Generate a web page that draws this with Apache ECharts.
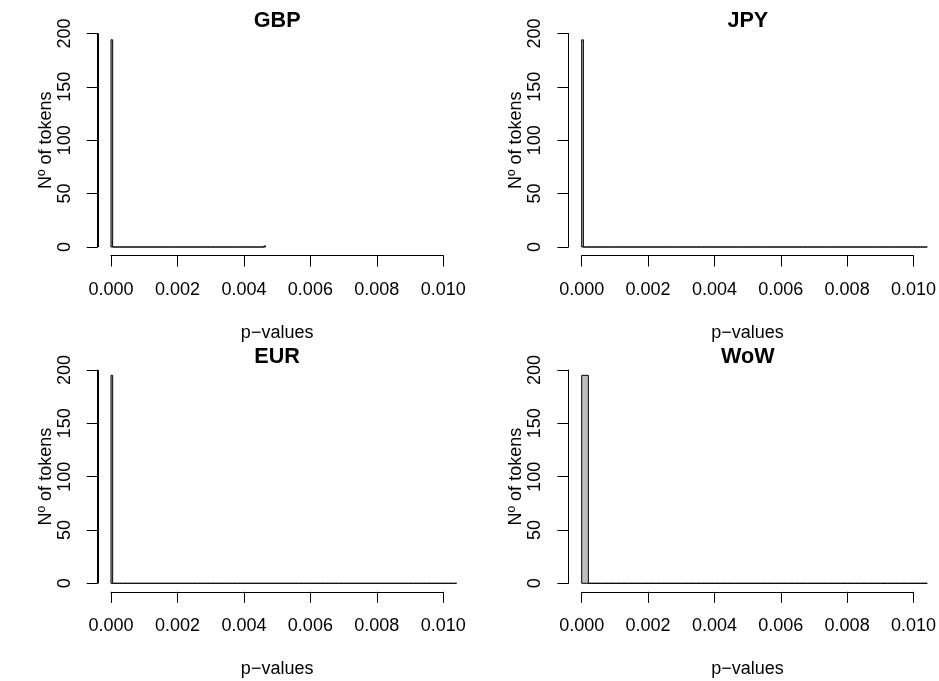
<!DOCTYPE html>
<html>
<head>
<meta charset="utf-8">
<script src="https://cdn.jsdelivr.net/npm/echarts@6/dist/echarts.min.js"></script>
<style>
html,body{margin:0;padding:0;background:#fff;}
#chart{width:939px;height:681px;background:#fff;}
</style>
</head>
<body>
<div id="chart"></div>
<script>
// ---- Data (histogram bin counts) ----
const panelTitles = ['GBP', 'JPY', 'EUR', 'WoW'];
const binWidths = [0.00005, 0.00005, 0.00005, 0.0002];
const gbpCounts = [194,
0,0,0,0,0,0,0,0,0,0,
0,0,0,0,0,0,0,0,0,0,
0,0,0,0,0,0,0,0,0,0,
0,0,0,0,0,0,0,0,0,0,
0,0,0,0,0,0,0,0,0,0,
0,0,0,0,0,0,0,0,0,0,
0,0,0,0,0,0,0,0,0,0,
0,0,0,0,0,0,0,0,0,0,
0,0,0,0,0,0,0,0,0,0,
0,
1];
const jpyCounts = [194,
0,0,0,0,0,0,0,0,0,0, 0,0,0,0,0,0,0,0,0,0,
0,0,0,0,0,0,0,0,0,0, 0,0,0,0,0,0,0,0,0,0,
0,0,0,0,0,0,0,0,0,0, 0,0,0,0,0,0,0,0,0,0,
0,0,0,0,0,0,0,0,0,0, 0,0,0,0,0,0,0,0,0,0,
0,0,0,0,0,0,0,0,0,0, 0,0,0,0,0,0,0,0,0,0,
0,0,0,0,0,0,0,0,0,0, 0,0,0,0,0,0,0,0,0,0,
0,0,0,0,0,0,0,0,0,0, 0,0,0,0,0,0,0,0,0,0,
0,0,0,0,0,0,0,0,0,0, 0,0,0,0,0,0,0,0,0,0,
0,0,0,0,0,0,0,0,0,0, 0,0,0,0,0,0,0,0,0,0,
0,0,0,0,0,0,0,0,0,0, 0,0,0,0,0,0,0,0,0,0,
0,0,0,0,0,0,0];
const eurCounts = [195,
0,0,0,0,0,0,0,0,0,0, 0,0,0,0,0,0,0,0,0,0,
0,0,0,0,0,0,0,0,0,0, 0,0,0,0,0,0,0,0,0,0,
0,0,0,0,0,0,0,0,0,0, 0,0,0,0,0,0,0,0,0,0,
0,0,0,0,0,0,0,0,0,0, 0,0,0,0,0,0,0,0,0,0,
0,0,0,0,0,0,0,0,0,0, 0,0,0,0,0,0,0,0,0,0,
0,0,0,0,0,0,0,0,0,0, 0,0,0,0,0,0,0,0,0,0,
0,0,0,0,0,0,0,0,0,0, 0,0,0,0,0,0,0,0,0,0,
0,0,0,0,0,0,0,0,0,0, 0,0,0,0,0,0,0,0,0,0,
0,0,0,0,0,0,0,0,0,0, 0,0,0,0,0,0,0,0,0,0,
0,0,0,0,0,0,0,0,0,0, 0,0,0,0,0,0,0,0,0,0,
0,0,0,0,0,0,0];
const wowCounts = [195,
0,0,0,0,0,0,0,0,0,0,
0,0,0,0,0,0,0,0,0,0,
0,0,0,0,0,0,0,0,0,0,
0,0,0,0,0,0,0,0,0,0,
0,0,0,0,0,0,0,0,0,0,
0];
const allCounts = [gbpCounts, jpyCounts, eurCounts, wowCounts];
const xTickMin = 0, xTickMax = 0.01, xTickStep = 0.002;
const yTickMin = 0, yTickMax = 200, yTickStep = 50;
const xLabel = 'p\u2212values';
const yLabel = 'Nº of tokens';

// ---- Layout (pixel geometry of the 2x2 panels) ----
const cols = [{x0: 111, x1: 443.3}, {x0: 581.7, x1: 914}];
const rows = [{y0: 247, y200: 33.4, title: 21}, {y0: 583.3, y200: 370, title: 356.7}];
const FONT = '"Liberation Sans", Arial, Helvetica, sans-serif';

const grids = [], xAxes = [], yAxes = [], series = [], graphics = [];
for (let p = 0; p < 4; p++) {
  const c = cols[p % 2], r = rows[Math.floor(p / 2)];
  const ppu = (c.x1 - c.x0) / (xTickMax - xTickMin);
  const ppv = (r.y0 - r.y200) / (yTickMax - yTickMin);
  const padX = 0.04 * (xTickMax - xTickMin), padY = 0.04 * (yTickMax - yTickMin);
  const plotL = c.x0 - padX * ppu, plotR = c.x1 + padX * ppu;
  const plotT = r.y200 - padY * ppv, plotB = r.y0 + padY * ppv;
  const gi = grids.length;
  // data grid (plot region)
  grids.push({left: plotL, top: plotT, width: plotR - plotL, height: plotB - plotT});
  xAxes.push({type: 'value', gridIndex: gi, min: xTickMin - padX, max: xTickMax + padX, show: false});
  yAxes.push({type: 'value', gridIndex: gi, min: yTickMin - padY, max: yTickMax + padY, show: false});
  // x-axis grid
  grids.push({left: c.x0, top: plotB - 10, width: c.x1 - c.x0, height: 10});
  xAxes.push({
    type: 'value', gridIndex: gi + 1, position: 'bottom', min: xTickMin, max: xTickMax, interval: xTickStep,
    splitLine: {show: false},
    axisLine: {show: true, onZero: false, lineStyle: {color: '#000', width: 1}},
    axisTick: {show: true, inside: false, length: 11, lineStyle: {color: '#000', width: 1}},
    axisLabel: {show: true, margin: 25, color: '#000', fontSize: 18, fontFamily: FONT, lineHeight: 18,
      formatter: v => v.toFixed(3), showMinLabel: true, showMaxLabel: true, hideOverlap: false},
    name: xLabel, nameLocation: 'middle', nameGap: 68,
    nameTextStyle: {color: '#000', fontSize: 18, fontFamily: FONT, lineHeight: 18}
  });
  yAxes.push({type: 'value', gridIndex: gi + 1, min: 0, max: 1, show: false});
  // y-axis grid
  grids.push({left: plotL, top: r.y200, width: 10, height: r.y0 - r.y200});
  xAxes.push({type: 'value', gridIndex: gi + 2, min: 0, max: 1, show: false});
  yAxes.push({
    type: 'value', gridIndex: gi + 2, position: 'left', min: yTickMin, max: yTickMax, interval: yTickStep,
    splitLine: {show: false},
    axisLine: {show: true, onZero: false, lineStyle: {color: '#000', width: 1}},
    axisTick: {show: true, inside: false, length: 11, lineStyle: {color: '#000', width: 1}},
    axisLabel: {show: true, margin: 24, rotate: 90, align: 'center', verticalAlign: 'bottom',
      color: '#000', fontSize: 18, fontFamily: FONT, lineHeight: 18, showMinLabel: true, showMaxLabel: true, hideOverlap: false},
    name: yLabel, nameLocation: 'middle', nameGap: 42, nameRotate: 90,
    nameTextStyle: {color: '#000', fontSize: 18, fontFamily: FONT, lineHeight: 18}
  });
  // histogram (bins listed only up to the right edge of the plot region)
  const w = binWidths[p];
  const data = allCounts[p].map((cnt, i) => [i * w, (i + 1) * w, cnt]);
  series.push({
    type: 'custom', xAxisIndex: gi, yAxisIndex: gi, clip: false, silent: true, z: 2,
    encode: {x: [0, 1], y: 2},
    data: data,
    renderItem: function (params, api) {
      const a = api.coord([api.value(0), api.value(2)]);
      const b = api.coord([api.value(1), 0]);
      return {
        type: 'rect',
        shape: {x: a[0], y: a[1], width: b[0] - a[0], height: b[1] - a[1]},
        style: {fill: '#BEBEBE', stroke: '#000', lineWidth: 1}
      };
    }
  });
  // left axis line over the tick range, drawn through the data grid's scale
  series.push({
    type: 'custom', xAxisIndex: gi, yAxisIndex: gi, clip: false, silent: true, z: 10,
    data: [[xTickMin - padX, yTickMin, yTickMax]],
    renderItem: function (params, api) {
      const a = api.coord([api.value(0), api.value(1)]);
      const b = api.coord([api.value(0), api.value(2)]);
      const x = Math.round(a[0]) + 0.5;
      return {
        type: 'line',
        shape: {x1: x, y1: a[1], x2: x, y2: b[1]},
        style: {stroke: '#000', lineWidth: 1}
      };
    }
  });
  // panel title
  graphics.push({
    type: 'text', x: (plotL + plotR) / 2, y: r.title,
    style: {text: panelTitles[p], fill: '#000', font: 'bold 21.6px ' + FONT, textAlign: 'center', textVerticalAlign: 'middle'}
  });
}

const chart = echarts.init(document.getElementById('chart'), null, {renderer: 'canvas'});
chart.setOption({
  animation: false,
  grid: grids,
  xAxis: xAxes,
  yAxis: yAxes,
  series: series,
  graphic: graphics
});
</script>
</body>
</html>
